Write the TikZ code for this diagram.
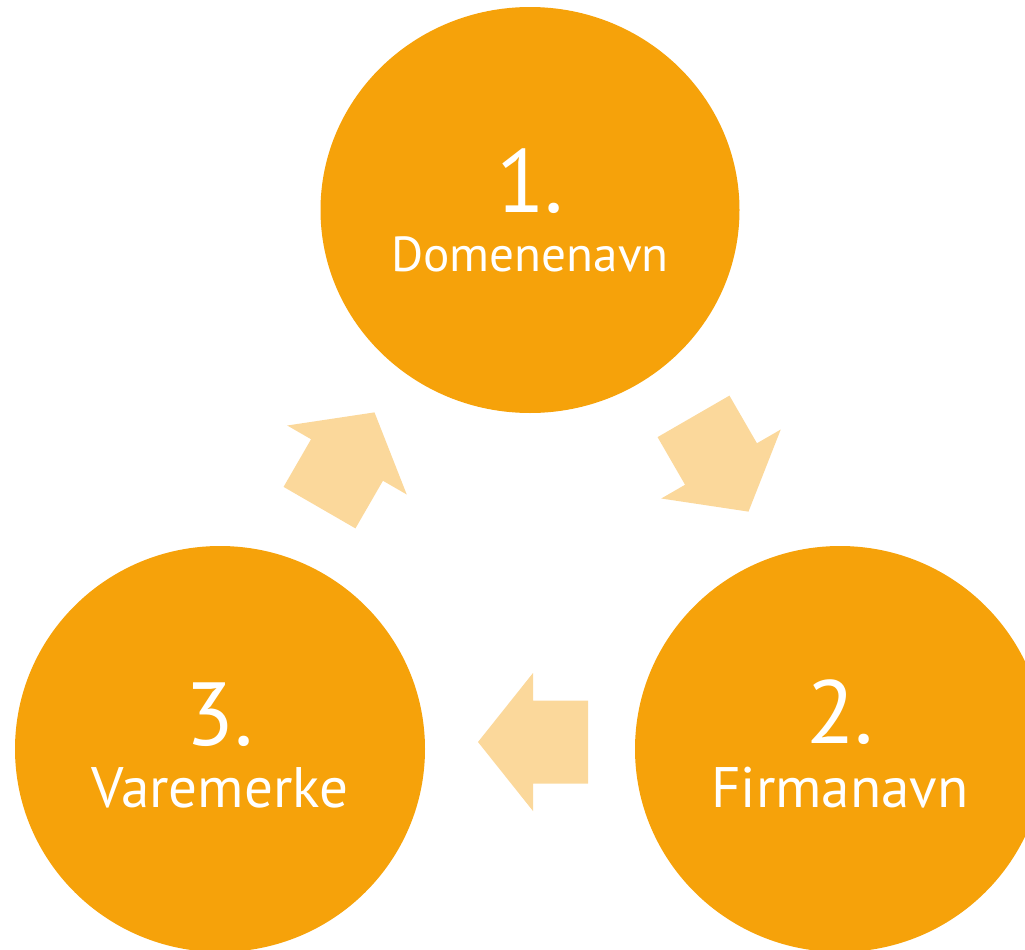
\documentclass[tikz,border=0pt]{standalone}
\usepackage{fontspec}
\setmainfont{PT Sans}
\usetikzlibrary{shapes.geometric}
\definecolor{steporange}{HTML}{F6A20A}
\definecolor{arrowpeach}{HTML}{FBD89B}

\begin{document}
\begin{tikzpicture}[
  x=0.02cm, y=-0.02cm,
  stepdisc/.style={
    ellipse,
    fill=steporange,
    inner sep=0pt,
    minimum width=#1*0.02cm,
    minimum height=406*0.02cm,
    },
  stepnum/.style={text=white,anchor=base,font=\fontsize{51}{51}\selectfont},
  stepname/.style={text=white,anchor=base,font=\fontsize{#1}{#1}\selectfont},
  cyclearrow/.pic={
    \fill[arrowpeach]
      (55,0) -- (0,-69) -- (0,-41.5) -- (-55,-41.5)
      -- (-55,41.5) -- (0,41.5) -- (0,69) -- cycle;
    },
  ]
  \clip (0,0) rectangle (1025,950);
  \useasboundingbox (0,0) rectangle (1025,950);

  \node[stepdisc=419] (dom) at (530,210) {};
  \node[stepdisc=410] (firma) at (840,749) {};
  \node[stepdisc=410] (vare) at (220,749) {};

  \node[stepnum] (domnum) at ([yshift=-0.04cm]dom.center) {1.};
  \node[stepname=28] (domname) at ([yshift=-1.24cm]dom.center) {Domenenavn};
  \node[stepnum] (firmanum) at ([yshift=0.12cm]firma.center) {2.};
  \node[stepname=32.5] (firmaname) at ([yshift=-1.18cm]firma.center) {Firmanavn};
  \node[stepnum] (varenum) at ([yshift=0.08cm]vare.center) {3.};
  \node[stepname=32.5] (varename) at ([yshift=-1.18cm]vare.center) {Varemerke};

  % arrows between the steps
  \pic[rotate=-60] (a12) at (721,464) {cyclearrow};
  \pic[rotate=180] (a23) at (533,742) {cyclearrow};
  \pic[rotate=60] (a31) at (347,460) {cyclearrow};
\end{tikzpicture}
\end{document}
